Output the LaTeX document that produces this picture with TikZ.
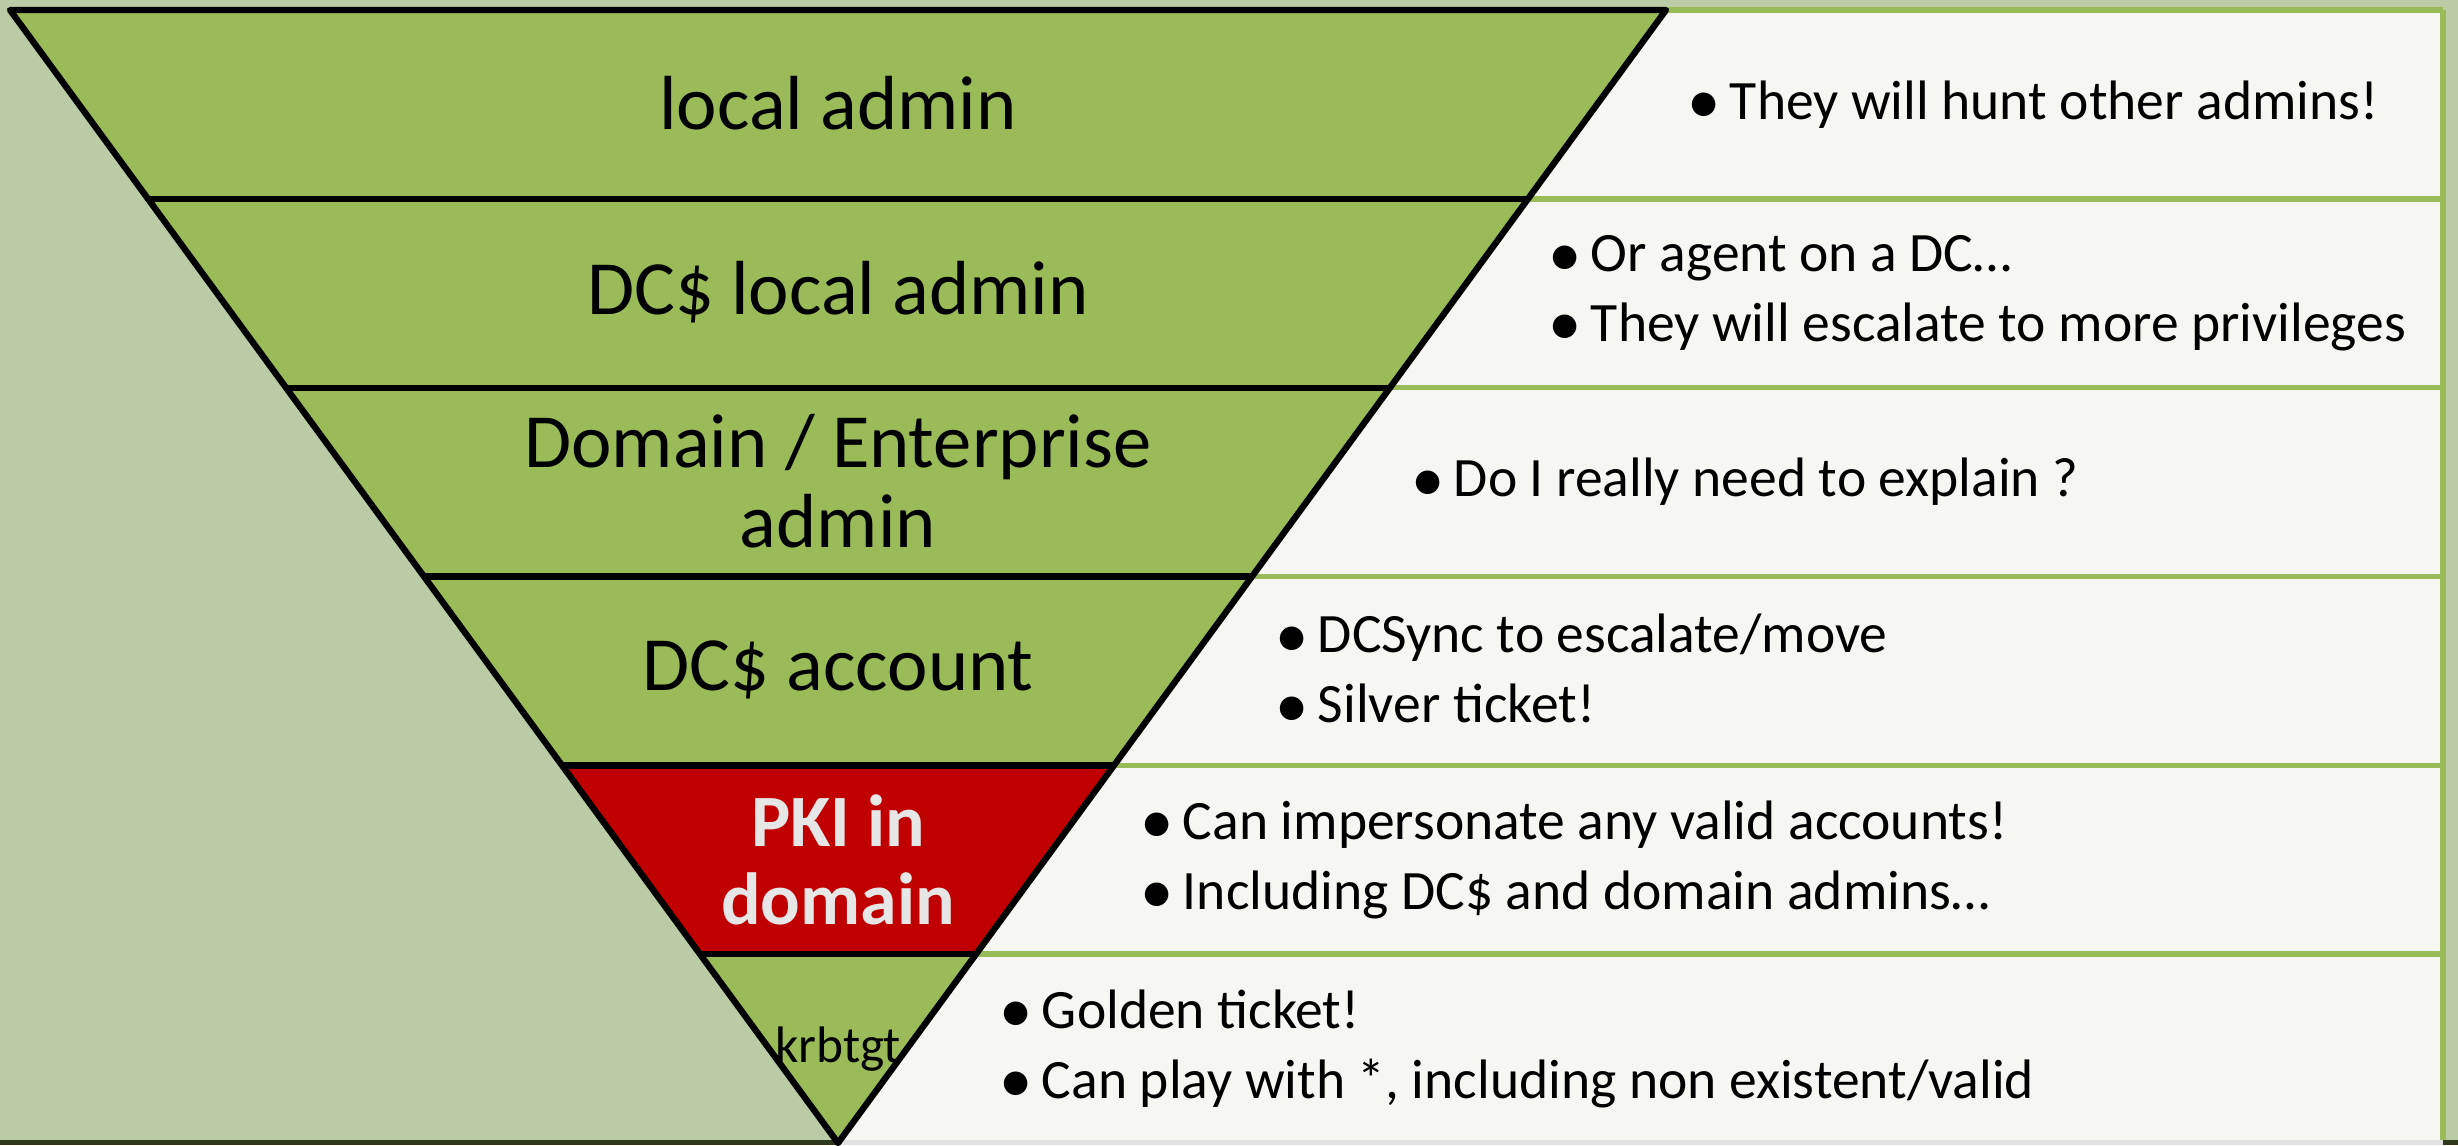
\documentclass[tikz,border=0pt]{standalone}
\usepackage{fontspec}
\setmainfont{Carlito}
\usetikzlibrary{calc}
\definecolor{leaf}{HTML}{9BBB59}
\definecolor{sage}{HTML}{BBCBA5}
\definecolor{paper}{HTML}{F6F7F3}
\definecolor{alarm}{HTML}{C00000}
\definecolor{pale}{HTML}{E6E6E6}
\newcommand{\bul}[1]{\makebox[0.76em][l]{\raisebox{-0.08em}{\scalebox{1.2}{\textbullet}}}#1}

\begin{document}
\begin{tikzpicture}[x=0.01cm,y=-0.01cm,
    lvl/.style={font=\fontsize{21.8}{22.8}\selectfont,align=center,inner sep=0pt},
    note/.style={anchor=west,align=left,font=\fontsize{15.8}{19.9}\selectfont,inner sep=0pt}]
  \useasboundingbox (0,0) rectangle (2458,1145);
  \fill[sage] (0,0) rectangle (2458,1145);
  \fill[black!70!leaf] (0,1140) rectangle (2458,1145);
  \fill[black!12] (838,1140) rectangle (2443,1145);
  \coordinate (tl) at (10,10);
  \coordinate (tr) at (1666,10);
  \coordinate (ap) at (838,1143);
  \coordinate (pr) at (2443,0);
  % panel on the right
  \fill[paper] (838,10) rectangle (2443,1140);
  \foreach \k in {0,...,5}{
    \coordinate (r\k) at ($(tr)!\k/6!(ap)$);
    \draw[leaf,line width=1.6pt] (r\k) -- (r\k -| pr);
  }
  \draw[leaf,line width=1.8pt] (2443,10) -- (2443,1140);
  % the funnel
  \fill[leaf] (tl) -- (tr) -- (ap) -- cycle;
  \fill[alarm] ($(tl)!4/6!(ap)$) -- ($(tr)!4/6!(ap)$) -- ($(tr)!5/6!(ap)$) -- ($(tl)!5/6!(ap)$) -- cycle;
  \foreach \k in {1,...,5}
    \draw[line width=1.8pt] ($(tl)!\k/6!(ap)$) -- ($(tr)!\k/6!(ap)$);
  \draw[line width=1.8pt,line join=round] (tl) -- (tr) -- (ap) -- cycle;
  % levels
  \node[lvl] (admin) at (838,103) {local admin};
  \node[lvl] (dcadmin) at (838,292) {DC\$ local admin};
  \node[lvl] (domadmin) at (838,481) {Domain / Enterprise\\admin};
  \node[lvl] (dcacct) at (838,670) {DC\$ account};
  \node[lvl,font=\fontsize{21}{22.3}\selectfont\bfseries,text=pale] (pki) at (838,859.8) {PKI in\\domain};
  \node[lvl,font=\fontsize{14.6}{16}\selectfont] (krbtgt) at (838,1048.6) {krbtgt};
  % notes
  \node[note] (n-admin) at (1687,104.4) {\bul{They will hunt other admins!}};
  \node[note] (n-dcadmin) at (1548,293.3) {\bul{Or agent on a DC…}\\\bul{They will escalate to more privileges}};
  \node[note] (n-domadmin) at (1411,482.1) {\bul{Do I really need to explain ?}};
  \node[note] (n-dcacct) at (1275,670.9) {\bul{DCSync to escalate/move}\\\bul{Silver ticket!}};
  \node[note] (n-pki) at (1140,859.8) {\bul{Can impersonate any valid accounts!}\\\bul{Including DC\$ and domain admins…}};
  \node[note] (n-krbtgt) at (999,1048.6) {\bul{Golden ticket!}\\\bul{Can play with *, including non existent/valid}};
\end{tikzpicture}
\end{document}
